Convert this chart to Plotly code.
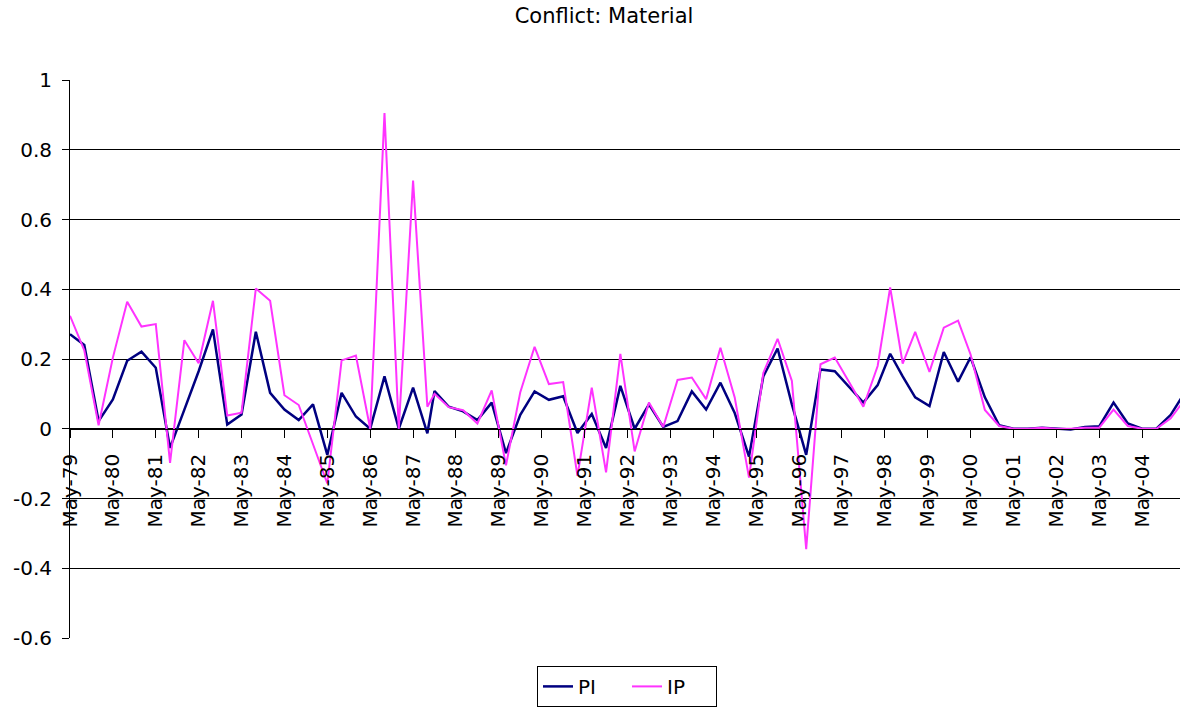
import plotly.graph_objects as go

# x positions: months after May-1979
month_pos = [0, 4, 8, 12, 16, 20, 24, 28, 32, 36,
             40, 44, 48, 52, 56, 60, 64, 68, 72, 76,
             80, 84, 88, 92, 96, 100, 102, 106, 110, 114,
             118, 122, 126, 130, 134, 138, 142, 146, 150, 154,
             158, 162, 166, 170, 174, 178, 182, 186, 190, 194,
             198, 202, 206, 210, 214, 218, 222, 226, 229.5, 233,
             236.5, 240.5, 244.5, 248.5, 252, 256, 260, 264, 268, 272,
             276, 280, 284, 288, 292, 296, 300, 304, 308, 312]

pi_vals = [0.271, 0.24, 0.022, 0.084, 0.195, 0.221, 0.175, -0.055, 0.055, 0.165,
           0.285, 0.012, 0.041, 0.278, 0.103, 0.055, 0.025, 0.07, -0.075, 0.103,
           0.035, 0.0, 0.15, 0.0, 0.118, -0.013, 0.108, 0.063, 0.05, 0.025,
           0.075, -0.07, 0.04, 0.107, 0.083, 0.093, -0.012, 0.042, -0.055, 0.123,
           0.0, 0.07, 0.005, 0.022, 0.107, 0.055, 0.132, 0.045, -0.08, 0.15,
           0.23, 0.07, -0.075, 0.17, 0.165, 0.12, 0.075, 0.125, 0.215, 0.15,
           0.09, 0.065, 0.22, 0.135, 0.205, 0.09, 0.01, 0.0, 0.0, 0.003,
           0.0, -0.002, 0.005, 0.007, 0.075, 0.015, 0.0, 0.0, 0.04, 0.105]

ip_vals = [0.324, 0.225, 0.01, 0.204, 0.364, 0.293, 0.3, -0.098, 0.254, 0.188,
           0.367, 0.038, 0.046, 0.402, 0.367, 0.096, 0.068, -0.045, -0.157, 0.196,
           0.21, 0.0, 0.905, 0.0, 0.712, 0.063, 0.1, 0.062, 0.053, 0.015,
           0.11, -0.105, 0.105, 0.235, 0.128, 0.134, -0.135, 0.118, -0.125, 0.215,
           -0.065, 0.075, 0.005, 0.14, 0.147, 0.085, 0.232, 0.09, -0.14, 0.16,
           0.258, 0.137, -0.345, 0.185, 0.204, 0.134, 0.063, 0.18, 0.405, 0.187,
           0.278, 0.163, 0.29, 0.31, 0.213, 0.054, 0.008, 0.0, 0.0, 0.003,
           0.0, 0.0, 0.003, 0.003, 0.055, 0.008, 0.0, 0.0, 0.03, 0.085]

tick_months = list(range(0, 301, 12))
tick_labels = [f"May-{y % 100:02d}" for y in range(1979, 2005)]

y_ticks = [-0.6, -0.4, -0.2, 0, 0.2, 0.4, 0.6, 0.8, 1]
y_text = ["-0.6", "-0.4", "-0.2", "0", "0.2", "0.4", "0.6", "0.8", "1"]

FONT = "DejaVu Sans, Verdana, sans-serif"

fig = go.Figure()
fig.add_trace(go.Scatter(x=month_pos, y=pi_vals, mode="lines", name="PI",
                         line=dict(color="#000080", width=2.5)))
fig.add_trace(go.Scatter(x=month_pos, y=ip_vals, mode="lines", name="IP",
                         line=dict(color="#ff33ff", width=2)))

fig.update_layout(
    width=1180, height=708,
    margin=dict(l=70, r=0, t=80, b=70, autoexpand=False),
    paper_bgcolor="white", plot_bgcolor="white",
    font=dict(family=FONT, size=20, color="black"),
    title=dict(text="Conflict: Material", xref="container", x=604 / 1180,
               xanchor="center", y=1 - 16 / 708, yanchor="middle",
               font=dict(family=FONT, size=21, color="black")),
    xaxis=dict(range=[0, 310.6], anchor="free", position=0.375,
               tickvals=tick_months, ticktext=tick_labels, tickangle=-90,
               ticks="outside", ticklen=8, tickcolor="black",
               showline=True, linecolor="black", linewidth=1,
               showgrid=False, zeroline=False, ticklabelstandoff=8,
               tickfont=dict(size=20)),
    yaxis=dict(range=[-0.6, 1], tickvals=y_ticks, ticktext=y_text,
               ticks="outside", ticklen=7, tickcolor="black",
               showline=True, linecolor="black", linewidth=1,
               showgrid=True, gridcolor="black", gridwidth=1,
               zeroline=False, ticklabelstandoff=6, tickfont=dict(size=20)),
    legend=dict(orientation="h", x=(627 - 70) / 1110, xanchor="center",
                y=-0.05, yanchor="top", bordercolor="black", borderwidth=1,
                font=dict(size=20), bgcolor="white", itemwidth=30,
                entrywidth=44),
    showlegend=True,
)

fig.write_html("out.html", config={"displayModeBar": False},
               post_script="document.body.style.margin='0';document.body.style.overflow='hidden';")
